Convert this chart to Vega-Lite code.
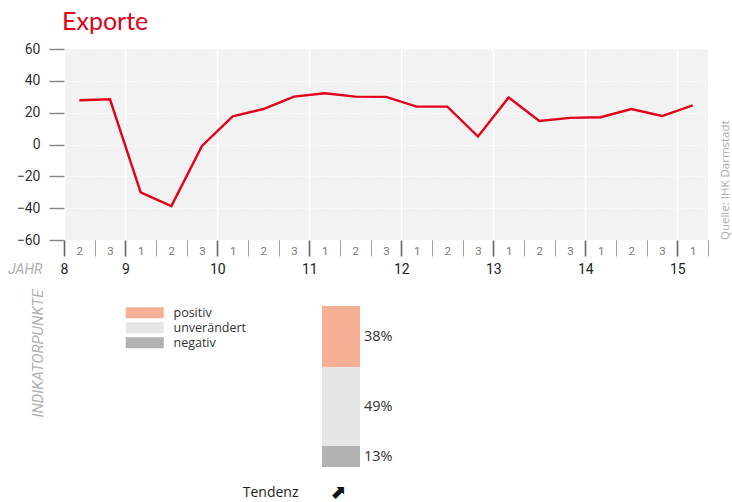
{
  "$schema": "https://vega.github.io/schema/vega-lite/v6.json",
  "background": "white",
  "padding": {"left": 7, "top": 10, "right": 0, "bottom": 0},
  "config": {
    "view": {"stroke": null},
    "font": "Roboto",
    "axis": {"labelFont": "Roboto", "titleFont": "Roboto"}
  },
  "title": {
    "text": "Exporte",
    "anchor": "start",
    "frame": "group",
    "color": "#e2001a",
    "font": "Lato",
    "fontSize": 25,
    "fontWeight": "normal",
    "offset": 7,
    "dx": -2
  },
  "spacing": 12,
  "vconcat": [
    {
      "width": 644,
      "height": 191,
      "view": {"fill": "#f2f2f2", "stroke": null},
      "title": {
        "text": "Quelle: IHK Darmstadt",
        "orient": "right",
        "anchor": "end",
        "frame": "group",
        "align": "left",
        "angle": -90,
        "baseline": "top",
        "offset": 0,
        "font": "Open Sans",
        "fontSize": 11.5,
        "fontWeight": "normal",
        "color": "#ababab"
      },
      "data": {
        "values": [
          {"jahr": 2008, "tertial": 2, "t": 0.5, "wert": 27.8},
          {"jahr": 2008, "tertial": 3, "t": 1.5, "wert": 28.4},
          {"jahr": 2009, "tertial": 1, "t": 2.5, "wert": -30.1},
          {"jahr": 2009, "tertial": 2, "t": 3.5, "wert": -38.7},
          {"jahr": 2009, "tertial": 3, "t": 4.5, "wert": -0.9},
          {"jahr": 2010, "tertial": 1, "t": 5.5, "wert": 17.7},
          {"jahr": 2010, "tertial": 2, "t": 6.5, "wert": 22.3},
          {"jahr": 2010, "tertial": 3, "t": 7.5, "wert": 30.1},
          {"jahr": 2011, "tertial": 1, "t": 8.5, "wert": 32.2},
          {"jahr": 2011, "tertial": 2, "t": 9.5, "wert": 30.1},
          {"jahr": 2011, "tertial": 3, "t": 10.5, "wert": 29.9},
          {"jahr": 2012, "tertial": 1, "t": 11.5, "wert": 23.8},
          {"jahr": 2012, "tertial": 2, "t": 12.5, "wert": 23.8},
          {"jahr": 2012, "tertial": 3, "t": 13.5, "wert": 5.0},
          {"jahr": 2013, "tertial": 1, "t": 14.5, "wert": 29.5},
          {"jahr": 2013, "tertial": 2, "t": 15.5, "wert": 14.8},
          {"jahr": 2013, "tertial": 3, "t": 16.5, "wert": 16.7},
          {"jahr": 2014, "tertial": 1, "t": 17.5, "wert": 17.1},
          {"jahr": 2014, "tertial": 2, "t": 18.5, "wert": 22.3},
          {"jahr": 2014, "tertial": 3, "t": 19.5, "wert": 17.9},
          {"jahr": 2015, "tertial": 1, "t": 20.5, "wert": 24.6}
        ]
      },
      "mark": {"type": "line", "color": "#e2001a", "strokeWidth": 2.4},
      "encoding": {
        "x": {
          "field": "t",
          "type": "quantitative",
          "scale": {"domain": [0, 21], "nice": false, "zero": false},
          "axis": {
            "values": [0, 0.5, 1, 1.5, 2, 2.5, 3, 3.5, 4, 4.5, 5, 5.5, 6, 6.5, 7, 7.5, 8, 8.5, 9, 9.5, 10, 10.5, 11, 11.5, 12, 12.5, 13, 13.5, 14, 14.5, 15, 15.5, 16, 16.5, 17, 17.5, 18, 18.5, 19, 19.5, 20, 20.5, 21],
            "domain": false,
            "grid": true,
            "gridColor": "#ffffff",
            "gridWidth": 1.5,
            "gridOpacity": {"condition": {"test": "datum.value === 0 || datum.value % 3 === 2", "value": 1}, "value": 0},
            "ticks": true,
            "tickSize": 16,
            "tickColor": {"condition": {"test": "datum.value === 0 || datum.value % 3 === 2", "value": "#666666"}, "value": "#a0a0a0"},
            "tickWidth": {"condition": {"test": "datum.value === 0 || datum.value % 3 === 2", "value": 1.6}, "value": 1},
            "tickOpacity": {"condition": {"test": "datum.value % 1 !== 0", "value": 0}, "value": 1},
            "labelExpr": "datum.value % 1 !== 0 ? '' + ((floor(datum.value) + 1) % 3 + 1) : (datum.value === 0 ? '8' : (datum.value % 3 === 2 ? '' + (9 + (datum.value - 2) / 3) : ''))",
            "labelFontSize": {"condition": {"test": "datum.value % 1 !== 0", "value": 11.5}, "value": 14},
            "labelColor": {"condition": {"test": "datum.value % 1 !== 0", "value": "#777777"}, "value": "#222222"},
            "labelPadding": {"condition": {"test": "datum.value % 1 !== 0", "value": -5}, "value": 13},
            "labelBaseline": "middle",
            "labelFlush": false,
            "labelOverlap": false,
            "labelBound": false,
            "title": "JAHR",
            "titleX": -22,
            "titleY": 29,
            "titleAlign": "right",
            "titleBaseline": "middle",
            "titleFontStyle": "italic",
            "titleFontWeight": "normal",
            "titleFontSize": 14,
            "titleColor": "#b0b0b0"
          }
        },
        "y": {
          "field": "wert",
          "type": "quantitative",
          "scale": {"domain": [-60, 60], "nice": false},
          "axis": {
            "values": [-60, -40, -20, 0, 20, 40, 60],
            "domain": false,
            "tickSize": 15,
            "tickColor": "#8a8a8a",
            "tickWidth": 1.5,
            "labelFontSize": 14,
            "labelColor": "#333333",
            "labelPadding": 9,
            "grid": true,
            "gridColor": "#ffffff",
            "gridDash": [1.5, 2],
            "gridWidth": 1.2,
            "title": null
          }
        }
      }
    },
    {
      "width": 644,
      "height": 161,
      "data": {
        "values": [
          {"kategorie": "positiv", "anteil": 0.38, "stapel": 1, "gruppe": "Tendenz"},
          {"kategorie": "unverändert", "anteil": 0.49, "stapel": 2, "gruppe": "Tendenz"},
          {"kategorie": "negativ", "anteil": 0.13, "stapel": 3, "gruppe": "Tendenz"}
        ]
      },
      "encoding": {
        "x": {
          "field": "gruppe",
          "type": "nominal",
          "scale": {"range": [258, 296], "paddingInner": 0, "paddingOuter": 0},
          "axis": {
            "domain": false,
            "ticks": false,
            "tickSize": 0,
            "labelAngle": 0,
            "labelAlign": "center",
            "labelOffset": -3,
            "labelPadding": 25,
            "labelBaseline": "middle",
            "labelFontSize": 17.5,
            "labelFontWeight": "bold",
            "labelColor": "#111111",
            "labelExpr": "'⬈'",
            "title": "Tendenz",
            "titleX": 234,
            "titleY": 25,
            "titleAlign": "right",
            "titleBaseline": "middle",
            "titleFont": "Open Sans",
            "titleFontSize": 14,
            "titleFontWeight": "normal",
            "titleColor": "#222222"
          }
        }
      },
      "layer": [
        {
          "mark": {"type": "bar"},
          "encoding": {
            "y": {
              "field": "anteil",
              "type": "quantitative",
              "stack": "zero",
              "scale": {"domain": [0, 1], "reverse": true, "nice": false},
              "axis": {
                "title": "INDIKATORPUNKTE",
                "labels": false,
                "ticks": false,
                "domain": false,
                "grid": false,
                "titleAnchor": "end",
                "titleY": -17,
                "titlePadding": 19,
                "titleFontStyle": "italic",
                "titleFontWeight": "normal",
                "titleFontSize": 15,
                "titleColor": "#b0b0b0"
              }
            },
            "order": {"field": "stapel", "type": "quantitative"},
            "color": {
              "field": "kategorie",
              "type": "nominal",
              "scale": {"domain": ["positiv", "unverändert", "negativ"], "range": ["#f5b095", "#e6e6e6", "#b2b2b2"]},
              "legend": {
                "orient": "none",
                "legendX": 74.5,
                "legendY": 257.5,
                "title": null,
                "symbolType": "M-3.4545,-1H3.4545V1H-3.4545Z",
                "symbolSize": 121,
                "symbolStrokeWidth": 0,
                "symbolOpacity": 1,
                "labelFont": "Open Sans",
                "labelFontSize": 12.5,
                "labelColor": "#333333",
                "labelOffset": 22.5,
                "rowPadding": 2
              }
            }
          }
        },
        {
          "transform": [
            {"stack": "anteil", "groupby": ["gruppe"], "sort": [{"field": "stapel", "order": "ascending"}], "as": ["von", "bis"]},
            {"fold": ["von", "bis"], "as": ["rand", "grenze"]},
            {"aggregate": [{"op": "mean", "field": "grenze", "as": "mitte"}], "groupby": ["gruppe", "kategorie", "anteil"]}
          ],
          "mark": {"type": "text", "align": "left", "baseline": "middle", "dx": 23, "font": "Open Sans", "fontSize": 14.5, "color": "#333333"},
          "encoding": {
            "y": {
              "field": "mitte",
              "type": "quantitative",
              "scale": {"domain": [0, 1], "reverse": true, "nice": false},
              "axis": {
                "title": "INDIKATORPUNKTE",
                "labels": false,
                "ticks": false,
                "domain": false,
                "grid": false,
                "titleAnchor": "end",
                "titleY": -17,
                "titlePadding": 19,
                "titleFontStyle": "italic",
                "titleFontWeight": "normal",
                "titleFontSize": 15,
                "titleColor": "#b0b0b0"
              }
            },
            "text": {"field": "anteil", "type": "quantitative", "format": ".0%"}
          }
        }
      ]
    }
  ]
}
